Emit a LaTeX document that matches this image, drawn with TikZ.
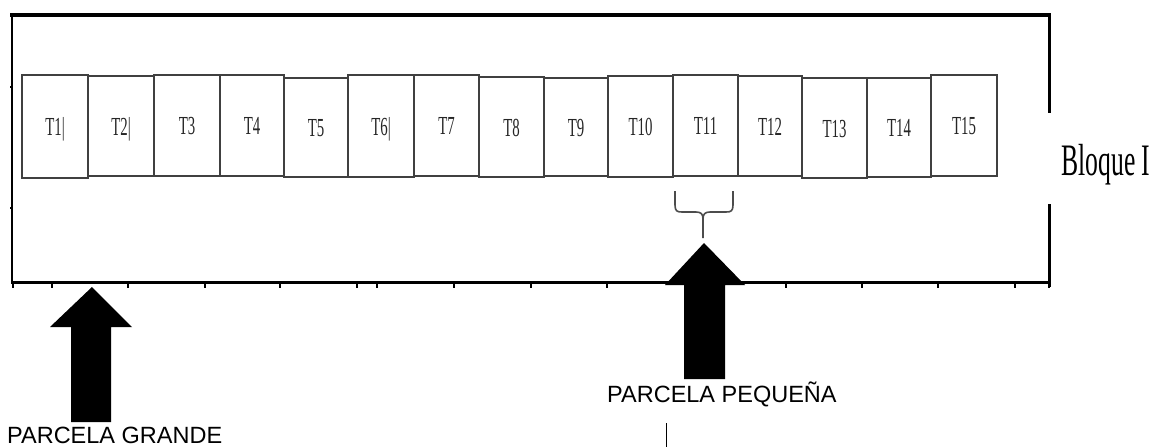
\documentclass[tikz,border=0pt]{standalone}
\usepackage{fontspec}
\newfontfamily\serifcond[FakeStretch=0.57]{Liberation Serif}
\newfontfamily\sanslabel{Liberation Sans}
\begin{document}
\begin{tikzpicture}[x=1pt,y=-1pt,
  frame/.style={line width=3pt,black},
  tick/.style={line width=1.8pt,black},
  tbox/.style={draw=black!75,line width=1.1pt,inner sep=0pt,
    font=\serifcond\fontsize{26}{26}\selectfont,text=black!85,
    text height=18pt,text depth=0pt},
  blockarrow/.style={fill=black,draw=none},
  bracepath/.style={draw=black!70,line width=1.6pt},
  caption/.style={font=\sanslabel\fontsize{23.5}{23.5}\selectfont,inner sep=0pt,anchor=base west}]
\useasboundingbox (0,0) rectangle (1156,447);
\fill[white] (0,0) rectangle (1156,447);

% outer frame of the block, open on the right side
\draw[frame,line width=4pt] (10,14.5) -- (1050,14.5);
\draw[frame,line width=2.5pt] (12,13) -- (12,284);
\draw[frame] (11,282.5) -- (1050,282.5);
\draw[frame] (1049,13) -- (1049,113);
\draw[frame] (1049,204) -- (1049,287);

% small ticks on the frame
\foreach \tx in {13,52,128,205,280,357,377,454,531,607,786,862,938,1015,1049}
  \draw[tick] (\tx,283) -- (\tx,287.5);
\foreach \ty in {87,208}
  \draw[tick,line width=1.2pt] (12,\ty) -- (10,\ty);

% the fifteen treatment plots
\foreach \i/\xa/\xb/\ya/\yb/\lab in {
  1/22/88/75/178/T1\textbar, 2/88/154/76/176/T2\textbar, 3/154/220/75/176/T3,
  4/220/284/75/176/T4, 5/284/348/78/177/T5, 6/348/414/75/177/T6\textbar,
  7/414/479/75/176/T7, 8/479/544/77/177/T8, 9/544/608/78/176/T9,
  10/608/673/76/177/T10, 11/673/738/75/176/T11, 12/738/802/76/176/T12,
  13/802/867/78/178/T13, 14/867/931/78/177/T14, 15/931/997/75/176/T15}
  \node[tbox,minimum width={(\xb-\xa)*1pt},minimum height={(\yb-\ya)*1pt}]
    (t\i) at ({(\xa+\xb)/2},{(\ya+\yb)/2}) {\lab};

% block name
\node[font=\serifcond\fontsize{45}{45}\selectfont,inner sep=0pt,anchor=base]
  (bloque) at (1106,175) {Bloque I};

% brace under plot T11
\coordinate (bl) at (675,191);
\coordinate (br) at (733,191);
\coordinate (btip) at (703,238);
\draw[bracepath] (bl) -- (675,205) .. controls (675,211) and (677,212) .. (682,212)
  -- (696,212) .. controls (701,212) and (703,214) .. (703,219) -- (btip);
\draw[bracepath] (br) -- (733,205) .. controls (733,211) and (731,212) .. (726,212)
  -- (710,212) .. controls (705,212) and (703,214) .. (703,219);

% block arrows pointing at the main plot and at the subplot
\coordinate (gtip) at (92,287);
\fill[blockarrow] (gtip) -- (50,327) -- (71,327) -- (71,422) -- (111,422)
  -- (111,327) -- (132,327) -- cycle;
\coordinate (ptip) at (704,243);
\fill[blockarrow] (ptip) -- (665,285) -- (684,285) -- (684,379) -- (725,379)
  -- (725,285) -- (745,285) -- cycle;

% captions
\node[caption] (grande) at (7,443.5) {PARCELA GRANDE};
\node[caption] (pequena) at (607,402) {PARCELA PEQUEÑA};

% short stray rule below the subplot caption
\coordinate (s1) at (666,423);
\coordinate (s2) at (666,447);
\draw[black,line width=1pt] (s1) -- (s2);
\end{tikzpicture}
\end{document}
